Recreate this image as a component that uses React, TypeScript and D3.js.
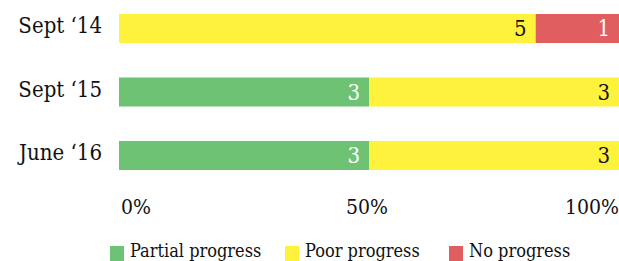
import React from 'react';
import * as d3 from 'd3';

const categories = ['Sept \u201814', 'Sept \u201815', 'June \u201816'];
const seriesNames = ['Partial progress', 'Poor progress', 'No progress'];
const partial = [0, 3, 3];
const poor = [5, 3, 3];
const noProgress = [1, 0, 0];
const tickValues = [0, 0.5, 1];
const tickLabels = ['0%', '50%', '100%'];

const colors = ['#6dc273', '#fff23c', '#e05d60'];
const textColors = ['#ffffff', '#111111', '#ffffff'];

const WIDTH = 619;
const HEIGHT = 261;
const FONT = "'DejaVu Serif Condensed', 'DejaVu Serif', serif";
const textStyle = { fontFamily: FONT, fontStretch: 'condensed' } as React.CSSProperties;

const App: React.FC = () => {
  const rows = categories.map((c, i) => ({
    category: c,
    'Partial progress': partial[i],
    'Poor progress': poor[i],
    'No progress': noProgress[i],
  }));

  // normalise each row to 100%
  const stack = d3.stack<any>()
    .keys(seriesNames)
    .offset(d3.stackOffsetExpand);
  const layers = stack(rows);

  const x = d3.scaleLinear().domain([0, 1]).range([119, 619]);
  const y = d3.scaleBand<string>()
    .domain(categories)
    .range([14, 170])
    .paddingInner(0.543)
    .paddingOuter(0);

  const legendX = [110, 285, 449];

  return (
    <svg
      width={WIDTH}
      height={HEIGHT}
      style={{ position: 'absolute', left: 0, top: 0 }}
    >
      <rect width={WIDTH} height={HEIGHT} fill="#ffffff" />

      {/* category labels */}
      {categories.map(c => (
        <text
          key={c}
          x={102}
          y={(y(c) || 0) + y.bandwidth() / 2}
          dy="0.22em"
          textAnchor="end"
          fontSize={22}
          style={textStyle}
          fill="#111"
        >
          {c}
        </text>
      ))}

      {/* stacked bars */}
      {layers.map((layer, li) => (
        <g key={layer.key} fill={colors[li]}>
          {layer.map((d, i) => {
            const w = x(d[1]) - x(d[0]);
            if (w <= 0) return null;
            return (
              <rect
                key={i}
                x={x(d[0])}
                y={y(categories[i])}
                width={w}
                height={y.bandwidth()}
              />
            );
          })}
        </g>
      ))}

      {/* value labels */}
      {layers.map((layer, li) => (
        <g key={'lbl-' + layer.key}>
          {layer.map((d, i) => {
            const v = (d.data as any)[layer.key] as number;
            if (!v) return null;
            return (
              <text
                key={i}
                x={x(d[1]) - 9}
                y={(y(categories[i]) || 0) + y.bandwidth() / 2}
                dy="0.35em"
                textAnchor="end"
                fontSize={22}
                style={textStyle}
                fill={textColors[li]}
              >
                {v}
              </text>
            );
          })}
        </g>
      ))}

      {/* axis tick labels */}
      {tickValues.map((t, i) => (
        <text
          key={t}
          x={i === 0 ? x(t) + 2 : i === tickValues.length - 1 ? x(t) : x(t) - 2}
          y={214}
          textAnchor={i === 0 ? 'start' : i === tickValues.length - 1 ? 'end' : 'middle'}
          fontSize={21}
          style={textStyle}
          fill="#111"
        >
          {tickLabels[i]}
        </text>
      ))}

      {/* legend */}
      {seriesNames.map((s, i) => (
        <g key={s} transform={`translate(${legendX[i]},246)`}>
          <rect width={14} height={15} fill={colors[i]} />
          <text x={20} y={11} fontSize={18} style={textStyle} fill="#111">
            {s}
          </text>
        </g>
      ))}
    </svg>
  );
};

export default App;
